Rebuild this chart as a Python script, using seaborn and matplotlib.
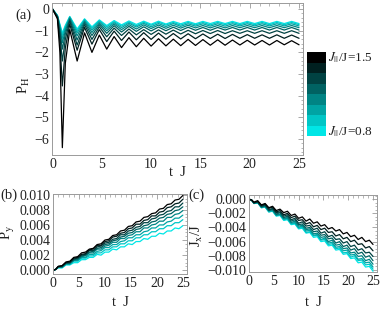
import matplotlib
matplotlib.use("Agg")
import matplotlib.pyplot as plt
import matplotlib as mpl
from matplotlib.ticker import MultipleLocator, FuncFormatter
import pandas as pd
import seaborn as sns

# coupling ratios J_||/J, one curve each
J_values = [1.5, 1.4, 1.3, 1.2, 1.1, 1.0, 0.9, 0.8]

# sample times (extrema of the oscillation)
t_a = [0, 0.5, 0.75, 1.0, 1.3, 1.75, 2.5, 3.25, 4.0, 4.75, 5.5, 6.25, 7.0,
       7.75, 8.5, 9.25, 10.0, 10.75, 11.5, 12.25, 13.0, 13.75, 14.5, 15.25,
       16.0, 16.75, 17.5, 18.25, 19.0, 19.75, 20.5, 21.25, 22.0, 22.75, 23.5,
       24.25, 25.0]
t_bc = [0, 0.5, 1.0, 1.75, 2.5, 3.25, 4.0, 4.75, 5.5, 6.25, 7.0, 7.75, 8.5,
        9.25, 10.0, 10.75, 11.5, 12.25, 13.0, 13.75, 14.5, 15.25, 16.0, 16.75,
        17.5, 18.25, 19.0, 19.75, 20.5, 21.25, 22.0, 22.75, 23.5, 24.25, 25.0]

# panel (a): P_H
PH = {
    1.5: [0, -0.45, -2.0, -6.4, -2.5, -0.95, -2.4, -1.1, -2.0, -1.2, -1.85, -1.27,
          -1.78, -1.32, -1.74, -1.35, -1.71, -1.37, -1.70, -1.39, -1.69, -1.40,
          -1.68, -1.41, -1.67, -1.42, -1.67, -1.43, -1.66, -1.44, -1.66, -1.45,
          -1.66, -1.45, -1.65, -1.46, -1.65],
    1.4: [0, -0.4, -1.5, -3.55, -1.8, -0.7, -1.9, -0.85, -1.62, -0.95, -1.5, -1.02,
          -1.45, -1.06, -1.42, -1.09, -1.40, -1.11, -1.39, -1.13, -1.38, -1.14,
          -1.37, -1.15, -1.36, -1.16, -1.36, -1.17, -1.35, -1.18, -1.35, -1.19,
          -1.35, -1.19, -1.35, -1.20, -1.35],
    1.3: [0, -0.37, -1.2, -2.4, -1.4, -0.55, -1.66, -0.72, -1.4, -0.82, -1.28, -0.88,
          -1.22, -0.92, -1.19, -0.95, -1.17, -0.96, -1.16, -0.97, -1.15, -0.98,
          -1.14, -0.99, -1.13, -0.99, -1.13, -1.0, -1.12, -1.0, -1.12, -1.0,
          -1.12, -1.0, -1.12, -1.0, -1.12],
    1.2: [0, -0.35, -1.0, -1.85, -1.15, -0.48, -1.43, -0.63, -1.22, -0.72, -1.12, -0.77,
          -1.06, -0.80, -1.03, -0.82, -1.01, -0.83, -1.0, -0.84, -0.99, -0.84,
          -0.98, -0.85, -0.98, -0.85, -0.97, -0.85, -0.97, -0.85, -0.97, -0.85,
          -0.97, -0.85, -0.97, -0.85, -0.97],
    1.1: [0, -0.33, -0.9, -1.55, -1.0, -0.43, -1.24, -0.57, -1.08, -0.65, -1.0, -0.69,
          -0.95, -0.72, -0.92, -0.73, -0.90, -0.74, -0.89, -0.75, -0.88, -0.75,
          -0.87, -0.76, -0.87, -0.76, -0.87, -0.76, -0.86, -0.76, -0.86, -0.76,
          -0.86, -0.76, -0.86, -0.76, -0.86],
    1.0: [0, -0.31, -0.8, -1.35, -0.9, -0.39, -1.1, -0.52, -0.97, -0.59, -0.9, -0.63,
          -0.86, -0.65, -0.83, -0.66, -0.82, -0.67, -0.81, -0.67, -0.80, -0.68,
          -0.79, -0.68, -0.79, -0.68, -0.79, -0.68, -0.78, -0.68, -0.78, -0.68,
          -0.78, -0.68, -0.78, -0.68, -0.78],
    0.9: [0, -0.3, -0.75, -1.2, -0.82, -0.36, -1.0, -0.48, -0.89, -0.54, -0.82, -0.58,
          -0.79, -0.6, -0.77, -0.61, -0.75, -0.61, -0.74, -0.62, -0.74, -0.62,
          -0.73, -0.62, -0.73, -0.62, -0.72, -0.62, -0.72, -0.62, -0.72, -0.62,
          -0.72, -0.62, -0.72, -0.62, -0.72],
    0.8: [0, -0.29, -0.7, -1.1, -0.75, -0.34, -0.92, -0.45, -0.82, -0.5, -0.76, -0.53,
          -0.73, -0.55, -0.71, -0.56, -0.70, -0.56, -0.69, -0.57, -0.68, -0.57,
          -0.68, -0.57, -0.67, -0.57, -0.67, -0.57, -0.67, -0.57, -0.67, -0.57,
          -0.67, -0.57, -0.67, -0.57, -0.67],
}

# panel (b): P_y, in units of 1e-4
Py_e4 = {
    1.5: [0, 1, 5, 6, 11, 12, 17, 18, 23, 24, 28, 29, 34, 35, 40, 41, 46, 47, 52,
          53, 58, 59, 64, 65, 70, 71, 75, 76, 81, 82, 87, 88, 93, 94, 99],
    1.4: [0, 1, 5, 6, 10, 11, 16, 17, 21, 22, 27, 28, 33, 33, 38, 39, 44, 45, 49,
          50, 55, 56, 61, 61, 66, 67, 72, 72, 77, 78, 83, 84, 88, 89, 94],
    1.3: [0, 1, 5, 5, 10, 10, 15, 16, 20, 21, 26, 26, 31, 32, 36, 37, 41, 42, 47,
          47, 52, 53, 57, 58, 63, 63, 68, 69, 73, 74, 78, 79, 84, 84, 89],
    1.2: [0, 1, 4, 5, 9, 10, 14, 15, 19, 20, 24, 25, 29, 30, 34, 35, 39, 40, 44,
          45, 49, 50, 54, 55, 59, 60, 64, 65, 69, 70, 74, 75, 79, 80, 84],
    1.1: [0, 1, 4, 4, 9, 9, 13, 14, 18, 19, 23, 23, 28, 28, 32, 33, 37, 37, 42,
          42, 46, 47, 51, 51, 56, 56, 60, 61, 65, 65, 70, 70, 74, 75, 79],
    1.0: [0, 1, 4, 4, 8, 8, 13, 13, 17, 17, 21, 21, 25, 26, 30, 30, 34, 34, 38,
          39, 43, 43, 47, 47, 51, 52, 56, 56, 60, 60, 64, 65, 69, 69, 73],
    0.9: [0, 1, 4, 4, 8, 8, 12, 12, 16, 16, 19, 19, 23, 23, 27, 27, 31, 31, 35,
          35, 39, 39, 43, 43, 47, 47, 51, 51, 55, 55, 59, 59, 63, 63, 67],
    0.8: [0, 1, 3, 3, 7, 7, 10, 10, 14, 14, 17, 17, 21, 20, 24, 24, 28, 27, 31,
          31, 35, 34, 38, 38, 42, 41, 45, 45, 49, 48, 52, 52, 56, 55, 59],
}

# panel (c): J_x/J, in units of 1e-4
Jx_e4 = {
    1.5: [0, -1, -4, -2, -8, -6, -12, -10, -16, -14, -19, -17, -23, -21, -27, -25,
          -31, -28, -34, -32, -38, -36, -42, -40, -45, -43, -49, -47, -53, -51,
          -57, -54, -60, -58, -64],
    1.4: [0, -1, -5, -3, -9, -7, -13, -11, -18, -16, -22, -20, -26, -24, -30, -29,
          -35, -33, -39, -37, -43, -41, -47, -46, -52, -50, -56, -54, -60, -58,
          -64, -63, -69, -67, -73],
    1.3: [0, -1, -5, -4, -10, -8, -15, -13, -19, -18, -24, -22, -29, -27, -34, -32,
          -38, -37, -43, -41, -48, -46, -53, -51, -57, -56, -62, -60, -67, -65,
          -72, -70, -76, -75, -81],
    1.2: [0, -1, -5, -4, -11, -9, -16, -14, -21, -19, -26, -24, -31, -29, -36, -35,
          -41, -40, -46, -45, -51, -50, -56, -55, -62, -60, -67, -65, -72, -70,
          -77, -75, -82, -80, -87],
    1.1: [0, -1, -6, -4, -11, -10, -16, -15, -22, -21, -27, -26, -33, -31, -38, -37,
          -43, -42, -49, -48, -54, -53, -60, -58, -65, -64, -70, -69, -76, -75,
          -81, -80, -87, -85, -92],
    1.0: [0, -1, -6, -5, -11, -10, -17, -16, -23, -22, -28, -27, -34, -33, -40, -38,
          -45, -44, -51, -50, -57, -55, -62, -61, -68, -67, -73, -72, -79, -78,
          -85, -84, -90, -89, -96],
    0.9: [0, -1, -6, -5, -12, -11, -18, -16, -23, -22, -29, -28, -35, -34, -41, -40,
          -47, -46, -52, -51, -58, -57, -64, -63, -70, -69, -76, -75, -82, -80,
          -87, -86, -93, -92, -99],
    0.8: [0, -1, -6, -5, -12, -11, -18, -17, -24, -23, -30, -29, -36, -35, -42, -41,
          -48, -47, -54, -53, -60, -59, -66, -65, -72, -71, -78, -77, -84, -83,
          -90, -89, -96, -95, -102],
}


def long_frame(t, curves, scale=1.0):
    rows = []
    for J, vals in curves.items():
        assert len(vals) == len(t)
        rows += [(ti, v * scale, J) for ti, v in zip(t, vals)]
    return pd.DataFrame(rows, columns=["t", "v", "J"])


sns.set_theme(style="white")
plt.rcParams["font.family"] = ["Liberation Serif", "DejaVu Serif"]
plt.rcParams["mathtext.fontset"] = "stix"

W, H = 381, 312
fig = plt.figure(figsize=(W / 100, H / 100), dpi=100)


def px_axes(left, top, right, bottom):
    return fig.add_axes([left / W, 1 - bottom / H, (right - left) / W, (bottom - top) / H])


def ftext(x, y, s, **kw):
    fig.text(x / W, 1 - y / H, s, ha="center", va="center", color="#222222", **kw)


hue_order = sorted(J_values)  # cyan first, black drawn last
colors = sns.blend_palette(["#00e6e6", "#000000"], len(hue_order))
pal = dict(zip(hue_order, colors))

grey = "#9a9a9a"


def style(ax, ymaj, ymin):
    ax.xaxis.set_major_locator(MultipleLocator(5))
    ax.xaxis.set_minor_locator(MultipleLocator(1))
    ax.yaxis.set_major_locator(MultipleLocator(ymaj))
    ax.yaxis.set_minor_locator(MultipleLocator(ymin))
    ax.tick_params(which="both", direction="in", top=True, right=True,
                   color=grey, labelcolor="#222222", labelsize=10, pad=2)
    ax.tick_params(which="major", length=3.5, width=0.6)
    ax.tick_params(which="minor", length=1.8, width=0.5)
    for sp in ax.spines.values():
        sp.set_color(grey)
        sp.set_linewidth(0.7)
    ax.set_xlabel("")
    ax.set_ylabel("")


def fmt3(v, pos):
    s = f"{v:.3f}"
    if s == "-0.000":
        s = "0.000"
    return s.replace("-", "\u2212")


# (a)
ax_a = px_axes(52, 3, 303, 155)
sns.lineplot(data=long_frame(t_a, PH), x="t", y="v", hue="J", hue_order=hue_order,
             palette=pal, legend=False, estimator=None, sort=False, lw=0.9, ax=ax_a)
ax_a.set_xlim(-0.05, 25.4)
ax_a.set_ylim(-6.74, 0.28)
style(ax_a, 1, 0.2)

# (b)
ax_b = px_axes(53, 194, 187, 274)
sns.lineplot(data=long_frame(t_bc, Py_e4, 1e-4), x="t", y="v", hue="J", hue_order=hue_order,
             palette=pal, legend=False, estimator=None, sort=False, lw=0.9, ax=ax_b)
ax_b.set_xlim(0, 25.8)
ax_b.set_ylim(-0.0005, 0.0101)
style(ax_b, 0.002, 0.0005)
ax_b.yaxis.set_major_formatter(FuncFormatter(fmt3))

# (c)
ax_c = px_axes(249, 195, 377, 272)
sns.lineplot(data=long_frame(t_bc, Jx_e4, 1e-4), x="t", y="v", hue="J", hue_order=hue_order,
             palette=pal, legend=False, estimator=None, sort=False, lw=0.9, ax=ax_c)
ax_c.set_xlim(0, 25.8)
ax_c.set_ylim(-0.0103, 0.0006)
style(ax_c, 0.002, 0.0005)
ax_c.yaxis.set_major_formatter(FuncFormatter(fmt3))

# discrete colour bar
cax = px_axes(307, 52, 326, 136)
cmap = mpl.colors.ListedColormap(colors)
norm = mpl.colors.BoundaryNorm(range(len(colors) + 1), cmap.N)
cb = fig.colorbar(mpl.cm.ScalarMappable(norm=norm, cmap=cmap), cax=cax, ticks=[])
cb.minorticks_off()
cb.outline.set_visible(False)
cax.tick_params(which="both", length=0, labelright=False)
fig.text(328 / W, 1 - 58 / H, r"$J_{||}$/J=1.5", ha="left", va="center", fontsize=9.5, color="#222222")
fig.text(328 / W, 1 - 132 / H, r"$J_{||}$/J=0.8", ha="left", va="center", fontsize=9.5, color="#222222")

# labels
ftext(23, 15, "(a)", fontsize=10.5)
ftext(9, 195, "(b)", fontsize=10.5)
ftext(196, 195, "(c)", fontsize=10.5)
ftext(24, 85, r"P$_\mathrm{H}$", fontsize=10.5, rotation=90)
ftext(8, 232, r"P$_\mathrm{y}$", fontsize=10.5, rotation=90)
ftext(197, 235, r"J$_\mathrm{x}$/J", fontsize=10.5, rotation=90)
ftext(177, 172, "t  J", fontsize=10.5)
ftext(120, 302, "t  J", fontsize=10.5)
ftext(313, 302, "t  J", fontsize=10.5)

fig.savefig("out.png", dpi=100)
